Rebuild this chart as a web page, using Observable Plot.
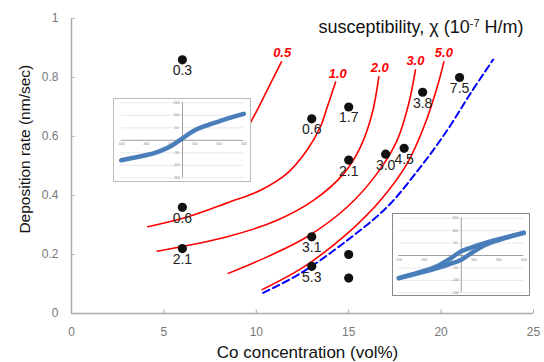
<!DOCTYPE html>
<html>
<head>
<meta charset="utf-8">
<script src="https://cdn.jsdelivr.net/npm/d3@7"></script>
<script src="https://cdn.jsdelivr.net/npm/@observablehq/plot@0.6"></script>
<style>
  body { margin: 0; background: white; }
  #wrap { position: relative; width: 544px; height: 362px; overflow: hidden; }
  #wrap > div.inset { position: absolute; background: white; box-sizing: border-box; }
  #wrap svg { display: block; }
</style>
</head>
<body>
<div id="wrap"></div>
<script>
// ---- Main chart data ----
const xTicks = [0, 5, 10, 15, 20, 25];
const yTicks = [0, 0.2, 0.4, 0.6, 0.8, 1];
const ptX = [6, 6, 6, 13, 15, 15, 13, 13, 15, 15, 17, 18, 19, 21];
const ptY = [0.86, 0.36, 0.22, 0.66, 0.70, 0.52, 0.26, 0.16, 0.20, 0.12, 0.54, 0.56, 0.75, 0.80];
const ptLabel = ["0.3", "0.6", "2.1", "0.6", "1.7", "2.1", "3.1", "5.3", "", "", "3.0", "4.5", "3.8", "7.5"];

// iso-susceptibility curves
const c05x = [9.0, 9.78, 10.59, 11.36];
const c05y = [0.575, 0.658, 0.757, 0.853];
const c10x = [4.13, 6.26, 8.42, 10.23, 11.67, 12.75, 13.47, 13.84, 14.29];
const c10y = [0.294, 0.327, 0.375, 0.418, 0.475, 0.554, 0.633, 0.70, 0.785];
const c20x = [4.64, 8.42, 11.13, 13.11, 14.74, 15.64, 16.27, 16.63];
const c20y = [0.211, 0.26, 0.316, 0.384, 0.475, 0.565, 0.678, 0.802];
const c30x = [8.48, 10.59, 12.75, 14.92, 16.54, 17.62, 18.25, 18.61];
const c30y = [0.136, 0.192, 0.26, 0.361, 0.475, 0.587, 0.712, 0.825];
const c50x = [10.32, 12.57, 14.92, 16.72, 18.16, 19.07, 19.79, 20.15];
const c50y = [0.081, 0.158, 0.271, 0.384, 0.508, 0.633, 0.768, 0.853];
const blueX = [10.37, 12.39, 14.92, 17.08, 18.89, 20.33, 21.59, 22.82];
const blueY = [0.07, 0.136, 0.248, 0.361, 0.497, 0.621, 0.746, 0.861];

const chiLabels = ["0.5", "1.0", "2.0", "3.0", "5.0"];
const chiLabelX = [11.4, 14.41, 16.68, 18.61, 20.15];
const chiLabelY = [0.883, 0.814, 0.833, 0.856, 0.885];

const titleText = "susceptibility, χ (10-7 H/m)";
const xTitle = "Co concentration (vol%)";
const yTitle = "Deposition rate (nm/sec)";

// ---- Inset data ----
const insXTicks = [-500, -300, -100, 100, 300, 500];
const insYTicks = [150, 100, 50, -50, -100, -150];
const insGrid = [150, 100, 50, -50, -100, -150];
const ins1X = [-500, -400, -300, -200, -100, 0, 100, 200, 300, 400, 500];
const ins1Y = [-80, -70, -60, -46, -25, 8, 40, 60, 76, 92, 106];
const loopUpX = [-500, -300, -200, -100, 0, 100, 200, 300, 500];
const loopUpY = [-91, -62, -44, -16, 17, 36, 52, 66, 91];
const loopLoX = [-500, -300, -200, -100, 0, 100, 200, 300, 500];
const loopLoY = [-91, -66, -52, -36, -17, 16, 44, 62, 91];

// ---- Build tables ----
const points = ptX.map((x, i) => ({x, y: ptY[i], label: ptLabel[i]}));
const curveSets = [["0.5", c05x, c05y], ["1.0", c10x, c10y], ["2.0", c20x, c20y], ["3.0", c30x, c30y], ["5.0", c50x, c50y]];
const curves = curveSets.flatMap(([k, xs, ys]) => xs.map((x, i) => ({k, x, y: ys[i]})));
const blue = blueX.map((x, i) => ({x, y: blueY[i]}));
const chiLab = chiLabels.map((t, i) => ({t, x: chiLabelX[i], y: chiLabelY[i]}));

const font = "'Liberation Sans', Arial, sans-serif";
const main = Plot.plot({
  width: 544, height: 362,
  marginLeft: 71, marginRight: 11, marginTop: 18, marginBottom: 49,
  x: {domain: [0, 25]},
  y: {domain: [0, 1]},
  style: {fontFamily: font, background: "white", overflow: "visible"},
  marks: [
    Plot.axisX(xTicks, {tickSize: 0, tickPadding: 14, fontSize: 12, fill: "#777", label: null}),
    Plot.axisY(yTicks, {tickSize: 0, tickPadding: 13, fontSize: 12, fill: "#777", label: null, tickFormat: d => String(d)}),
    Plot.ruleY([0], {stroke: "#aaa", strokeWidth: 1.5}),
    Plot.ruleX([0], {stroke: "#aaa", strokeWidth: 1.5}),
    Plot.ruleX(xTicks.slice(1), {x: d => d, y1: 0, y2: 0.012, stroke: "#aaa"}),
    Plot.ruleY(yTicks.slice(1), {y: d => d, x1: 0, x2: 0.22, stroke: "#bbb"}),
    Plot.line(curves, {x: "x", y: "y", z: "k", stroke: "#ff0000", strokeWidth: 1.6, curve: "catmull-rom"}),
    Plot.line(blue, {x: "x", y: "y", stroke: "#0000ff", strokeWidth: 2, strokeDasharray: "7,4", curve: "catmull-rom"}),
    Plot.dot(points, {x: "x", y: "y", r: 4.6, fill: "#111"}),
    Plot.text(points, {x: "x", y: "y", text: "label", dy: 11, fontSize: 14, fill: "#222"}),
    Plot.text(chiLab, {x: "x", y: "y", text: "t", fill: "#ff0000", fontSize: 13, fontWeight: "bold", fontStyle: "italic"}),
    Plot.text([titleText], {x: 24.46, y: 0.971, text: d => d, textAnchor: "end", fontSize: 18, fill: "#111"}),
    Plot.text([xTitle], {x: 12.77, y: -0.131, text: d => d, fontSize: 17, fill: "#111"}),
    Plot.text([yTitle], {x: -2.49, y: 0.557, rotate: -90, text: d => d, fontSize: 15.5, fill: "#111"})
  ]
});

// superscript for the title
d3.select(main).selectAll("text").filter(function () { return this.textContent === titleText; })
  .each(function () {
    const t = d3.select(this);
    t.text(null);
    t.append("tspan").text("susceptibility, χ (10");
    t.append("tspan").attr("dy", -6).attr("font-size", 11).text("-7");
    t.append("tspan").attr("dy", 6).text(" H/m)");
  });

const wrap = document.getElementById("wrap");
wrap.appendChild(main);

function inset(opts, lineMarks) {
  const div = document.createElement("div");
  div.className = "inset";
  Object.assign(div.style, {left: opts.left + "px", top: opts.top + "px", width: (opts.w + 2) + "px", height: (opts.h + 2) + "px", border: "1px solid " + opts.border});
  const p = Plot.plot({
    width: opts.w, height: opts.h,
    marginLeft: opts.ml, marginRight: opts.mr, marginTop: opts.mt, marginBottom: opts.mb,
    x: {domain: [-500, 500], axis: null},
    y: {domain: [-150, 150], axis: null},
    style: {fontFamily: font, background: "white", overflow: "visible"},
    marks: [
      Plot.ruleY(insGrid, {stroke: "#d9d9d9", strokeWidth: 0.6}),
      Plot.ruleY([0], {stroke: "#888", strokeWidth: 0.8}),
      Plot.ruleX([0], {stroke: "#888", strokeWidth: 0.8}),
      Plot.text(insXTicks, {x: d => d, y: 0, dy: 4, text: d => String(d), fontSize: 3.5, fill: "#888"}),
      Plot.text(insYTicks, {x: 0, y: d => d, dx: -6, text: d => String(d), fontSize: 3.5, fill: "#888"}),
      ...lineMarks
    ]
  });
  div.appendChild(p);
  wrap.appendChild(div);
}

const insBlue = "#4a7ebb";
inset({left: 113, top: 98, w: 136, h: 82, ml: 6.7, mr: 6.7, mt: 3.3, mb: 3.7, border: "#bbb"}, [
  Plot.line(ins1X.map((x, i) => ({x, y: ins1Y[i]})), {x: "x", y: "y", stroke: insBlue, strokeWidth: 4.5, curve: "catmull-rom"})
]);
inset({left: 392, top: 213, w: 136, h: 81, ml: 5.3, mr: 5.7, mt: 3.7, mb: 2.7, border: "#888"}, [
  Plot.line(loopUpX.map((x, i) => ({x, y: loopUpY[i]})), {x: "x", y: "y", stroke: insBlue, strokeWidth: 4.5, curve: "catmull-rom"}),
  Plot.line(loopLoX.map((x, i) => ({x, y: loopLoY[i]})), {x: "x", y: "y", stroke: insBlue, strokeWidth: 4.5, curve: "catmull-rom"})
]);
</script>
</body>
</html>
